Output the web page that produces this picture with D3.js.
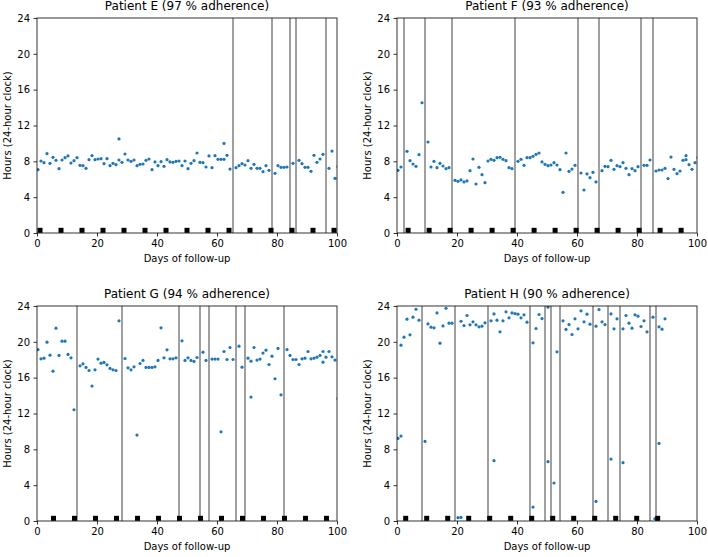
<!DOCTYPE html>
<html><head><meta charset="utf-8">
<script src="https://cdn.jsdelivr.net/npm/d3@7"></script>
<style>body{margin:0;background:#fff}</style>
</head><body>
<svg id="c" width="708" height="557" xmlns="http://www.w3.org/2000/svg"></svg>
<script>
// ---- data: hour of intake for each day of follow-up (null = no intake) ----
const hoursE = [7.07,8.04,7.85,8.86,7.78,8.45,8.11,7.18,8.15,8.41,8.6,7.81,8.07,8.41,7.55,7.52,7.22,8.19,8.63,8.19,
8.26,8.3,7.74,8.3,7.52,7.78,7.63,8.15,7.89,8.82,8.15,8.0,8.15,7.52,7.67,7.7,8.11,8.26,7.07,7.93,
7.52,7.96,7.44,8.19,7.93,7.89,8.0,8.04,7.52,8.04,7.18,7.78,8.07,8.93,7.89,7.85,7.37,8.6,7.29,8.63,
8.22,8.22,8.22,8.67,7.14,null,7.29,7.52,7.74,7.59,8.07,7.22,7.67,7.22,7.22,6.85,7.52,7.0,null,6.66,
7.52,7.33,7.33,7.37,null,7.78,null,8.11,7.74,7.33,7.33,6.88,8.67,7.89,8.26,8.78,null,7.22,9.15,6.1,7.4];
const extrasE = [[27,10.5],[62,10.0]];
const missedE = [65,78,84,86,96];
const weeksE = [1,8,15,22,29,36,43,50,57,64,71,78,85,92,99];

const hoursF = [7.0,7.37,null,9.12,8.07,7.7,7.44,8.74,14.54,null,10.16,7.37,8.0,7.29,7.78,7.48,7.18,7.29,null,5.88,
5.77,5.92,5.7,5.81,6.96,8.26,5.47,7.33,6.51,5.62,8.04,8.22,8.11,8.41,8.45,8.22,8.07,7.29,7.18,null,
8.0,8.22,7.55,8.41,8.41,8.56,8.78,8.93,7.93,7.67,7.52,7.59,7.85,7.59,7.07,4.54,8.93,6.88,7.14,7.55,
null,6.7,4.8,6.59,6.18,6.77,5.7,null,6.96,7.44,7.4,8.11,7.11,7.52,7.4,7.85,7.22,6.51,7.18,6.96,
7.4,null,7.55,7.55,8.15,null,6.92,7.03,7.03,7.22,6.07,8.48,7.11,6.62,6.92,8.11,8.63,7.63,7.11,7.85,8.41];
const extrasF = [[96,8.19]];
const missedF = [2,9,18,39,60,67,81,85];
const weeksF = [3.7,10.7,17.7,24.7,31.7,38.7,45.7,52.7,59.7,66.7,73.7,80.7,87.7,94.7];

const hoursG = [19.14,18.1,18.18,19.96,18.51,16.73,21.52,18.48,20.07,20.07,18.59,18.22,12.42,null,17.32,17.55,17.14,16.8,15.06,16.88,
18.07,17.62,17.7,17.43,17.03,16.88,16.8,22.34,null,18.14,17.1,16.88,17.21,9.59,17.58,17.92,17.14,17.14,17.14,17.21,
17.92,21.56,18.22,19.11,18.1,18.1,18.22,null,20.11,17.92,18.22,17.92,17.81,18.25,null,18.85,17.92,null,18.07,18.07,
18.07,9.96,18.92,18.03,19.37,18.03,null,19.52,17.17,null,18.18,13.83,19.37,17.96,18.07,18.74,19.07,17.47,18.4,15.88,
19.26,14.09,null,19.14,18.48,18.03,18.03,17.47,18.1,18.18,18.92,18.1,18.18,18.29,18.48,18.92,18.29,18.92,18.33,17.96,13.65];
const extrasG = [[71,17.84],[95,17.73]];
const missedG = [13,28,47,54,57,66,69,82];
const weeksG = [5.5,12.5,19.5,26.5,33.5,40.5,47.5,54.5,61.5,68.5,75.5,82.5,89.5,96.5];

const hoursH = [9.22,19.63,20.52,22.53,20.78,22.75,23.64,22.42,null,8.88,22.0,21.64,21.56,23.23,19.85,21.78,23.75,22.08,22.08,null,
0.37,0.4,21.82,22.94,21.9,22.23,21.9,21.67,21.75,22.12,null,22.34,23.12,22.42,21.12,22.34,23.35,22.68,23.23,23.16,
23.09,22.68,23.01,22.19,null,19.89,21.49,23.05,22.6,null,23.87,null,4.24,18.88,null,22.34,21.38,21.93,20.82,22.57,
21.45,23.46,22.23,23.09,21.97,null,21.75,23.6,22.23,21.93,null,23.12,21.45,22.57,null,21.45,22.94,22.08,21.52,23.01,
22.86,21.71,22.34,21.12,null,22.75,null,21.67,21.41,22.57];
const extrasH = [[1,9.48],[21,22.3],[32,6.73],[45,1.56],[50,6.62],[66,2.19],[71,6.91],[75,6.51],[85.6,0.25],[87,8.66]];
const missedH = [8,19,30,44,49,51,54,65,70,74,84,86];
const weeksH = [2.9,9.9,16.9,23.9,30.9,37.9,44.9,51.9,58.9,65.9,72.9,79.9,86.9];

const titles = ["Patient E (97 % adherence)","Patient F (93 % adherence)","Patient G (94 % adherence)","Patient H (90 % adherence)"];
const xTicks = [0,20,40,60,80,100];
const yTicks = [0,4,8,12,16,20,24];
const xLabel = "Days of follow-up";
const yLabel = "Hours (24-hour clock)";

// ---- layout ----
const W = 300, H = 215;
const panels = [
  {title:titles[0], hours:hoursE, extras:extrasE, missed:missedE, weeks:weeksE, x0:37,  y0:18},
  {title:titles[1], hours:hoursF, extras:extrasF, missed:missedF, weeks:weeksF, x0:397, y0:18},
  {title:titles[2], hours:hoursG, extras:extrasG, missed:missedG, weeks:weeksG, x0:37,  y0:306},
  {title:titles[3], hours:hoursH, extras:extrasH, missed:missedH, weeks:weeksH, x0:397, y0:306}
];
const OFF = 1/3;
const FONT = "DejaVu Sans, sans-serif";
const svg = d3.select("#c");
const defs = svg.append("defs");

panels.forEach((p, i) => {
  const x = d3.scaleLinear().domain([0, 100]).range([p.x0, p.x0 + W]);
  const y = d3.scaleLinear().domain([0, 24]).range([p.y0 + H, p.y0]);
  const cid = "clip" + i;
  defs.append("clipPath").attr("id", cid).append("rect")
    .attr("x", p.x0).attr("y", p.y0).attr("width", W).attr("height", H);
  const g = svg.append("g");
  const plot = g.append("g").attr("clip-path", `url(#${cid})`);

  const pts = p.hours.map((h, d) => ({d, h})).filter(o => o.h != null)
    .concat(p.extras.map(([d, h]) => ({d, h})));
  plot.selectAll("circle").data(pts).join("circle")
    .attr("cx", o => x(o.d + OFF)).attr("cy", o => y(o.h))
    .attr("r", 1.6).attr("fill", "#1f77b4");

  plot.selectAll("line.miss").data(p.missed).join("line").attr("class", "miss")
    .attr("x1", d => x(d + OFF)).attr("x2", d => x(d + OFF))
    .attr("y1", y(0)).attr("y2", y(24))
    .attr("stroke", "#808080").attr("stroke-width", 1.5);

  plot.selectAll("rect.wk").data(p.weeks).join("rect").attr("class", "wk")
    .attr("x", d => x(d) - 2.5).attr("y", y(0.3) - 2.5)
    .attr("width", 5).attr("height", 5).attr("fill", "#000");

  const ax = g.append("g").attr("transform", `translate(0,${p.y0 + H})`)
    .call(d3.axisBottom(x).tickValues(xTicks).tickSize(3.5).tickPadding(3.5).tickFormat(d3.format("d")));
  const ay = g.append("g").attr("transform", `translate(${p.x0},0)`)
    .call(d3.axisLeft(y).tickValues(yTicks).tickSize(3.5).tickPadding(3.5).tickFormat(d3.format("d")));
  [ax, ay].forEach(a => {
    a.select(".domain").remove();
    a.selectAll(".tick line").attr("stroke", "#000").attr("stroke-width", 0.8);
    a.selectAll(".tick text").attr("font-family", FONT).attr("font-size", 10).attr("fill", "#000");
  });

  g.append("rect").attr("x", p.x0).attr("y", p.y0).attr("width", W).attr("height", H)
    .attr("fill", "none").attr("stroke", "#000").attr("stroke-width", 0.8);

  g.append("text").attr("x", p.x0 + W / 2).attr("y", p.y0 - 8.5)
    .attr("text-anchor", "middle").attr("font-family", FONT).attr("font-size", 12)
    .text(p.title);
  g.append("text").attr("x", p.x0 + W / 2).attr("y", p.y0 + H + 29)
    .attr("text-anchor", "middle").attr("font-family", FONT).attr("font-size", 10)
    .text(xLabel);
  g.append("text")
    .attr("transform", `translate(${p.x0 - 26},${p.y0 + H / 2}) rotate(-90)`)
    .attr("text-anchor", "middle").attr("font-family", FONT).attr("font-size", 10)
    .text(yLabel);
});
</script>
</body></html>
